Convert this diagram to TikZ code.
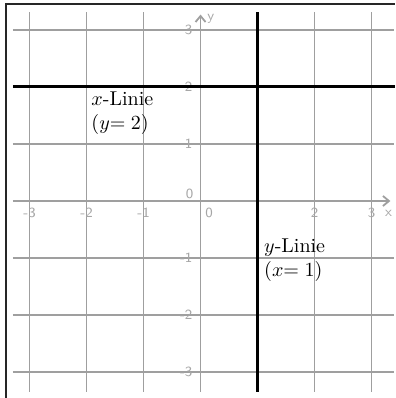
\documentclass[tikz,border=0pt]{standalone}
\usepackage{amsmath}
\usepackage{amssymb}
\usepackage{tikz}
\usetikzlibrary{arrows.meta}

\begin{document}
\begin{tikzpicture}[
    gridline/.style={draw=gray!75, line width=0.9pt},
    axisline/.style={draw=gray!75, line width=0.9pt, -{Straight Barb[length=3pt,width=5pt]}},
    markline/.style={draw=black, line width=1.5pt},
    ticklabel/.style={text=gray!70, font=\sffamily\scriptsize, inner sep=1pt},
    linelabel/.style={align=left, anchor=north west, inner sep=0pt}
]
    \useasboundingbox (-3.518,-3.456) rectangle (3.412,3.526);
    % Frame (only left and top side visible)
    \draw[gray!30!black, line width=1pt] (-3.42,-3.456) |- (3.412,3.456);

    % Grid
    \foreach \k in {-3,-2,-1,1,2,3} {
        \draw[gridline] (\k,-3.35) -- (\k,3.32);
        \draw[gridline] (-3.29,\k) -- (3.4,\k);
    }

    % Axes
    \draw[axisline] (-3.29,0) -- (3.33,0);
    \draw[axisline] (0,-3.35) -- (0,3.27);
    \node[ticklabel] (xname) at (3.3,-0.21) {x};
    \node[ticklabel] (yname) at (0.18,3.2) {y};

    % Tick labels
    \foreach \k in {-3,-2,-1,2,3} {
        \node[ticklabel] (xl\k) at (\k,-0.21) {\k};
    }
    \node[ticklabel] (xl0) at (0.15,-0.21) {0};
    \foreach \k in {-3,-2,-1,1,2,3} {
        \node[ticklabel, anchor=east] (yl\k) at (-0.1,\k) {\k};
    }
    \node[ticklabel] (yl0) at (-0.19,0.13) {0};

    % Lines x=1 and y=2
    \draw[markline] (-3.29,2) -- (3.412,2);
    \draw[markline] (1,-3.35) -- (1,3.32);

    % Labels
    \node[linelabel] (xlinie) at (-1.92,1.92) {$x$-Linie\\$(y{=}\;2)$};
    \node[linelabel] (ylinie) at (1.11,-0.655) {$y$-Linie\\$(x{=}\;1)$};
\end{tikzpicture}
\end{document}
